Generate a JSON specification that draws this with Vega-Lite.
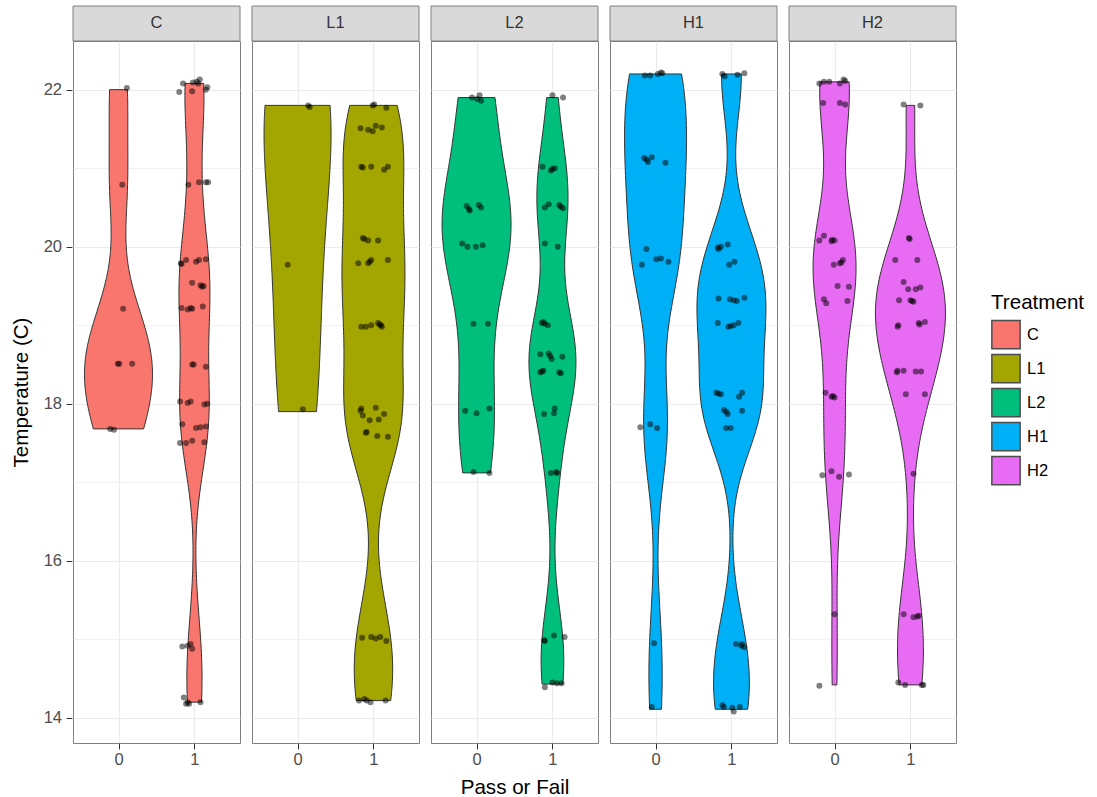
{
  "$schema": "https://vega.github.io/schema/vega-lite/v6.json",
  "padding": {"left": 11, "top": 5, "right": 5, "bottom": 3},
  "background": "white",
  "data": {"values": [
    {"Treatment":"C","pf":0,"temp":22.02,"pfx":0.11},
    {"Treatment":"C","pf":0,"temp":20.79,"pfx":0.05},
    {"Treatment":"C","pf":0,"temp":19.21,"pfx":0.06},
    {"Treatment":"C","pf":0,"temp":18.51,"pfx":-0.01},
    {"Treatment":"C","pf":0,"temp":18.51,"pfx":0.01},
    {"Treatment":"C","pf":0,"temp":18.51,"pfx":0.18},
    {"Treatment":"C","pf":0,"temp":17.68,"pfx":-0.11},
    {"Treatment":"C","pf":0,"temp":17.67,"pfx":-0.06},
    {"Treatment":"C","pf":1,"temp":21.97,"pfx":0.8},
    {"Treatment":"C","pf":1,"temp":22.08,"pfx":0.85},
    {"Treatment":"C","pf":1,"temp":21.98,"pfx":0.97},
    {"Treatment":"C","pf":1,"temp":22.1,"pfx":1.03},
    {"Treatment":"C","pf":1,"temp":22.13,"pfx":1.07},
    {"Treatment":"C","pf":1,"temp":22.08,"pfx":1.05},
    {"Treatment":"C","pf":1,"temp":22.0,"pfx":1.15},
    {"Treatment":"C","pf":1,"temp":22.03,"pfx":1.17},
    {"Treatment":"C","pf":1,"temp":22.09,"pfx":0.98},
    {"Treatment":"C","pf":1,"temp":20.79,"pfx":0.92},
    {"Treatment":"C","pf":1,"temp":20.82,"pfx":1.06},
    {"Treatment":"C","pf":1,"temp":20.82,"pfx":1.15},
    {"Treatment":"C","pf":1,"temp":20.82,"pfx":1.18},
    {"Treatment":"C","pf":1,"temp":19.79,"pfx":0.82},
    {"Treatment":"C","pf":1,"temp":19.78,"pfx":0.83},
    {"Treatment":"C","pf":1,"temp":19.83,"pfx":0.89},
    {"Treatment":"C","pf":1,"temp":19.81,"pfx":1.02},
    {"Treatment":"C","pf":1,"temp":19.83,"pfx":1.06},
    {"Treatment":"C","pf":1,"temp":19.84,"pfx":1.15},
    {"Treatment":"C","pf":1,"temp":19.54,"pfx":0.97},
    {"Treatment":"C","pf":1,"temp":19.51,"pfx":1.08},
    {"Treatment":"C","pf":1,"temp":19.49,"pfx":1.1},
    {"Treatment":"C","pf":1,"temp":19.5,"pfx":1.12},
    {"Treatment":"C","pf":1,"temp":19.22,"pfx":0.83},
    {"Treatment":"C","pf":1,"temp":19.2,"pfx":0.91},
    {"Treatment":"C","pf":1,"temp":19.22,"pfx":0.95},
    {"Treatment":"C","pf":1,"temp":19.21,"pfx":0.97},
    {"Treatment":"C","pf":1,"temp":19.24,"pfx":1.11},
    {"Treatment":"C","pf":1,"temp":18.5,"pfx":0.97},
    {"Treatment":"C","pf":1,"temp":18.5,"pfx":0.99},
    {"Treatment":"C","pf":1,"temp":18.47,"pfx":1.15},
    {"Treatment":"C","pf":1,"temp":18.03,"pfx":0.81},
    {"Treatment":"C","pf":1,"temp":18.01,"pfx":0.91},
    {"Treatment":"C","pf":1,"temp":18.03,"pfx":0.95},
    {"Treatment":"C","pf":1,"temp":17.99,"pfx":1.13},
    {"Treatment":"C","pf":1,"temp":18.0,"pfx":1.17},
    {"Treatment":"C","pf":1,"temp":17.74,"pfx":0.84},
    {"Treatment":"C","pf":1,"temp":17.69,"pfx":1.02},
    {"Treatment":"C","pf":1,"temp":17.7,"pfx":1.08},
    {"Treatment":"C","pf":1,"temp":17.71,"pfx":1.15},
    {"Treatment":"C","pf":1,"temp":17.5,"pfx":0.81},
    {"Treatment":"C","pf":1,"temp":17.5,"pfx":0.89},
    {"Treatment":"C","pf":1,"temp":17.53,"pfx":0.97},
    {"Treatment":"C","pf":1,"temp":17.51,"pfx":1.13},
    {"Treatment":"C","pf":1,"temp":14.91,"pfx":0.84},
    {"Treatment":"C","pf":1,"temp":14.92,"pfx":0.91},
    {"Treatment":"C","pf":1,"temp":14.88,"pfx":0.97},
    {"Treatment":"C","pf":1,"temp":14.94,"pfx":0.95},
    {"Treatment":"C","pf":1,"temp":14.26,"pfx":0.86},
    {"Treatment":"C","pf":1,"temp":14.2,"pfx":0.91},
    {"Treatment":"C","pf":1,"temp":14.18,"pfx":0.93},
    {"Treatment":"C","pf":1,"temp":14.2,"pfx":1.08},
    {"Treatment":"C","pf":1,"temp":14.18,"pfx":0.89},
    {"Treatment":"L1","pf":0,"temp":21.78,"pfx":0.16},
    {"Treatment":"L1","pf":0,"temp":21.8,"pfx":0.14},
    {"Treatment":"L1","pf":0,"temp":19.77,"pfx":-0.13},
    {"Treatment":"L1","pf":0,"temp":17.93,"pfx":0.07},
    {"Treatment":"L1","pf":1,"temp":21.8,"pfx":0.99},
    {"Treatment":"L1","pf":1,"temp":21.81,"pfx":1.01},
    {"Treatment":"L1","pf":1,"temp":21.77,"pfx":1.17},
    {"Treatment":"L1","pf":1,"temp":21.51,"pfx":0.83},
    {"Treatment":"L1","pf":1,"temp":21.49,"pfx":0.93},
    {"Treatment":"L1","pf":1,"temp":21.47,"pfx":0.99},
    {"Treatment":"L1","pf":1,"temp":21.54,"pfx":1.03},
    {"Treatment":"L1","pf":1,"temp":21.52,"pfx":1.11},
    {"Treatment":"L1","pf":1,"temp":21.02,"pfx":0.84},
    {"Treatment":"L1","pf":1,"temp":21.01,"pfx":0.86},
    {"Treatment":"L1","pf":1,"temp":21.02,"pfx":0.97},
    {"Treatment":"L1","pf":1,"temp":20.98,"pfx":1.14},
    {"Treatment":"L1","pf":1,"temp":21.02,"pfx":1.19},
    {"Treatment":"L1","pf":1,"temp":20.11,"pfx":0.86},
    {"Treatment":"L1","pf":1,"temp":20.1,"pfx":0.88},
    {"Treatment":"L1","pf":1,"temp":20.08,"pfx":0.93},
    {"Treatment":"L1","pf":1,"temp":20.08,"pfx":1.06},
    {"Treatment":"L1","pf":1,"temp":19.79,"pfx":0.8},
    {"Treatment":"L1","pf":1,"temp":19.79,"pfx":0.93},
    {"Treatment":"L1","pf":1,"temp":19.81,"pfx":0.95},
    {"Treatment":"L1","pf":1,"temp":19.83,"pfx":0.97},
    {"Treatment":"L1","pf":1,"temp":19.83,"pfx":1.19},
    {"Treatment":"L1","pf":1,"temp":18.98,"pfx":0.84},
    {"Treatment":"L1","pf":1,"temp":18.98,"pfx":0.9},
    {"Treatment":"L1","pf":1,"temp":19.0,"pfx":0.97},
    {"Treatment":"L1","pf":1,"temp":19.03,"pfx":1.06},
    {"Treatment":"L1","pf":1,"temp":19.01,"pfx":1.08},
    {"Treatment":"L1","pf":1,"temp":18.98,"pfx":1.11},
    {"Treatment":"L1","pf":1,"temp":19.0,"pfx":1.1},
    {"Treatment":"L1","pf":1,"temp":17.91,"pfx":0.83},
    {"Treatment":"L1","pf":1,"temp":17.85,"pfx":0.86},
    {"Treatment":"L1","pf":1,"temp":17.95,"pfx":1.03},
    {"Treatment":"L1","pf":1,"temp":17.87,"pfx":1.14},
    {"Treatment":"L1","pf":1,"temp":17.79,"pfx":0.95},
    {"Treatment":"L1","pf":1,"temp":17.8,"pfx":1.07},
    {"Treatment":"L1","pf":1,"temp":17.94,"pfx":0.84},
    {"Treatment":"L1","pf":1,"temp":17.63,"pfx":0.9},
    {"Treatment":"L1","pf":1,"temp":17.64,"pfx":0.91},
    {"Treatment":"L1","pf":1,"temp":17.59,"pfx":1.05},
    {"Treatment":"L1","pf":1,"temp":17.58,"pfx":1.19},
    {"Treatment":"L1","pf":1,"temp":15.02,"pfx":0.85},
    {"Treatment":"L1","pf":1,"temp":15.03,"pfx":0.97},
    {"Treatment":"L1","pf":1,"temp":15.01,"pfx":1.03},
    {"Treatment":"L1","pf":1,"temp":15.03,"pfx":1.09},
    {"Treatment":"L1","pf":1,"temp":14.98,"pfx":1.17},
    {"Treatment":"L1","pf":1,"temp":14.22,"pfx":0.81},
    {"Treatment":"L1","pf":1,"temp":14.24,"pfx":0.88},
    {"Treatment":"L1","pf":1,"temp":14.22,"pfx":0.91},
    {"Treatment":"L1","pf":1,"temp":14.2,"pfx":0.96},
    {"Treatment":"L1","pf":1,"temp":14.22,"pfx":1.16},
    {"Treatment":"L2","pf":0,"temp":21.9,"pfx":-0.06},
    {"Treatment":"L2","pf":0,"temp":21.88,"pfx":0.01},
    {"Treatment":"L2","pf":0,"temp":21.86,"pfx":0.06},
    {"Treatment":"L2","pf":0,"temp":21.93,"pfx":0.04},
    {"Treatment":"L2","pf":0,"temp":20.52,"pfx":-0.13},
    {"Treatment":"L2","pf":0,"temp":20.46,"pfx":-0.09},
    {"Treatment":"L2","pf":0,"temp":20.53,"pfx":0.03},
    {"Treatment":"L2","pf":0,"temp":20.5,"pfx":0.06},
    {"Treatment":"L2","pf":0,"temp":20.48,"pfx":-0.1},
    {"Treatment":"L2","pf":0,"temp":20.04,"pfx":-0.19},
    {"Treatment":"L2","pf":0,"temp":20.0,"pfx":-0.12},
    {"Treatment":"L2","pf":0,"temp":20.0,"pfx":-0.01},
    {"Treatment":"L2","pf":0,"temp":20.02,"pfx":0.08},
    {"Treatment":"L2","pf":0,"temp":19.02,"pfx":-0.04},
    {"Treatment":"L2","pf":0,"temp":19.02,"pfx":0.15},
    {"Treatment":"L2","pf":0,"temp":17.91,"pfx":-0.15},
    {"Treatment":"L2","pf":0,"temp":17.88,"pfx":0.0},
    {"Treatment":"L2","pf":0,"temp":17.94,"pfx":0.17},
    {"Treatment":"L2","pf":0,"temp":17.13,"pfx":-0.04},
    {"Treatment":"L2","pf":0,"temp":17.12,"pfx":0.17},
    {"Treatment":"L2","pf":1,"temp":21.93,"pfx":1.0},
    {"Treatment":"L2","pf":1,"temp":21.9,"pfx":1.14},
    {"Treatment":"L2","pf":1,"temp":21.02,"pfx":0.87},
    {"Treatment":"L2","pf":1,"temp":20.97,"pfx":0.98},
    {"Treatment":"L2","pf":1,"temp":21.0,"pfx":1.03},
    {"Treatment":"L2","pf":1,"temp":20.99,"pfx":1.0},
    {"Treatment":"L2","pf":1,"temp":20.5,"pfx":0.9},
    {"Treatment":"L2","pf":1,"temp":20.54,"pfx":0.95},
    {"Treatment":"L2","pf":1,"temp":20.53,"pfx":1.09},
    {"Treatment":"L2","pf":1,"temp":20.49,"pfx":1.14},
    {"Treatment":"L2","pf":1,"temp":20.51,"pfx":1.11},
    {"Treatment":"L2","pf":1,"temp":20.04,"pfx":0.9},
    {"Treatment":"L2","pf":1,"temp":20.0,"pfx":1.07},
    {"Treatment":"L2","pf":1,"temp":19.03,"pfx":0.86},
    {"Treatment":"L2","pf":1,"temp":19.02,"pfx":0.9},
    {"Treatment":"L2","pf":1,"temp":19.0,"pfx":0.94},
    {"Treatment":"L2","pf":1,"temp":19.04,"pfx":0.88},
    {"Treatment":"L2","pf":1,"temp":18.63,"pfx":0.84},
    {"Treatment":"L2","pf":1,"temp":18.64,"pfx":0.95},
    {"Treatment":"L2","pf":1,"temp":18.57,"pfx":0.99},
    {"Treatment":"L2","pf":1,"temp":18.6,"pfx":1.13},
    {"Treatment":"L2","pf":1,"temp":18.61,"pfx":0.97},
    {"Treatment":"L2","pf":1,"temp":18.4,"pfx":0.84},
    {"Treatment":"L2","pf":1,"temp":18.42,"pfx":0.88},
    {"Treatment":"L2","pf":1,"temp":18.39,"pfx":1.11},
    {"Treatment":"L2","pf":1,"temp":18.41,"pfx":0.86},
    {"Treatment":"L2","pf":1,"temp":18.4,"pfx":1.09},
    {"Treatment":"L2","pf":1,"temp":17.87,"pfx":0.89},
    {"Treatment":"L2","pf":1,"temp":17.88,"pfx":1.02},
    {"Treatment":"L2","pf":1,"temp":17.94,"pfx":1.03},
    {"Treatment":"L2","pf":1,"temp":17.12,"pfx":0.98},
    {"Treatment":"L2","pf":1,"temp":17.13,"pfx":1.05},
    {"Treatment":"L2","pf":1,"temp":17.12,"pfx":1.06},
    {"Treatment":"L2","pf":1,"temp":14.98,"pfx":0.9},
    {"Treatment":"L2","pf":1,"temp":15.05,"pfx":1.02},
    {"Treatment":"L2","pf":1,"temp":15.03,"pfx":1.16},
    {"Treatment":"L2","pf":1,"temp":14.99,"pfx":0.89},
    {"Treatment":"L2","pf":1,"temp":14.39,"pfx":0.9},
    {"Treatment":"L2","pf":1,"temp":14.45,"pfx":1.0},
    {"Treatment":"L2","pf":1,"temp":14.44,"pfx":1.06},
    {"Treatment":"L2","pf":1,"temp":14.44,"pfx":1.12},
    {"Treatment":"H1","pf":0,"temp":22.18,"pfx":-0.14},
    {"Treatment":"H1","pf":0,"temp":22.18,"pfx":-0.07},
    {"Treatment":"H1","pf":0,"temp":22.2,"pfx":0.03},
    {"Treatment":"H1","pf":0,"temp":22.22,"pfx":0.07},
    {"Treatment":"H1","pf":0,"temp":22.21,"pfx":0.09},
    {"Treatment":"H1","pf":0,"temp":21.13,"pfx":-0.15},
    {"Treatment":"H1","pf":0,"temp":21.08,"pfx":-0.1},
    {"Treatment":"H1","pf":0,"temp":21.14,"pfx":-0.05},
    {"Treatment":"H1","pf":0,"temp":21.07,"pfx":0.13},
    {"Treatment":"H1","pf":0,"temp":21.11,"pfx":-0.12},
    {"Treatment":"H1","pf":0,"temp":19.97,"pfx":-0.12},
    {"Treatment":"H1","pf":0,"temp":19.77,"pfx":-0.18},
    {"Treatment":"H1","pf":0,"temp":19.84,"pfx":0.01},
    {"Treatment":"H1","pf":0,"temp":19.85,"pfx":0.07},
    {"Treatment":"H1","pf":0,"temp":19.81,"pfx":0.17},
    {"Treatment":"H1","pf":0,"temp":17.7,"pfx":-0.2},
    {"Treatment":"H1","pf":0,"temp":17.74,"pfx":-0.07},
    {"Treatment":"H1","pf":0,"temp":17.69,"pfx":0.02},
    {"Treatment":"H1","pf":0,"temp":14.95,"pfx":-0.02},
    {"Treatment":"H1","pf":0,"temp":14.14,"pfx":-0.05},
    {"Treatment":"H1","pf":1,"temp":22.2,"pfx":0.88},
    {"Treatment":"H1","pf":1,"temp":22.17,"pfx":0.91},
    {"Treatment":"H1","pf":1,"temp":22.19,"pfx":1.08},
    {"Treatment":"H1","pf":1,"temp":22.21,"pfx":1.17},
    {"Treatment":"H1","pf":1,"temp":19.99,"pfx":0.82},
    {"Treatment":"H1","pf":1,"temp":20.0,"pfx":0.86},
    {"Treatment":"H1","pf":1,"temp":20.03,"pfx":0.95},
    {"Treatment":"H1","pf":1,"temp":19.97,"pfx":0.83},
    {"Treatment":"H1","pf":1,"temp":19.77,"pfx":0.97},
    {"Treatment":"H1","pf":1,"temp":19.81,"pfx":1.04},
    {"Treatment":"H1","pf":1,"temp":19.34,"pfx":0.83},
    {"Treatment":"H1","pf":1,"temp":19.33,"pfx":0.98},
    {"Treatment":"H1","pf":1,"temp":19.31,"pfx":1.07},
    {"Treatment":"H1","pf":1,"temp":19.35,"pfx":1.17},
    {"Treatment":"H1","pf":1,"temp":19.32,"pfx":1.03},
    {"Treatment":"H1","pf":1,"temp":19.03,"pfx":0.82},
    {"Treatment":"H1","pf":1,"temp":18.98,"pfx":0.96},
    {"Treatment":"H1","pf":1,"temp":19.0,"pfx":1.03},
    {"Treatment":"H1","pf":1,"temp":19.03,"pfx":1.09},
    {"Treatment":"H1","pf":1,"temp":18.99,"pfx":0.99},
    {"Treatment":"H1","pf":1,"temp":18.14,"pfx":0.8},
    {"Treatment":"H1","pf":1,"temp":18.12,"pfx":0.86},
    {"Treatment":"H1","pf":1,"temp":18.09,"pfx":1.1},
    {"Treatment":"H1","pf":1,"temp":18.14,"pfx":1.14},
    {"Treatment":"H1","pf":1,"temp":18.13,"pfx":0.83},
    {"Treatment":"H1","pf":1,"temp":17.92,"pfx":0.9},
    {"Treatment":"H1","pf":1,"temp":17.87,"pfx":0.95},
    {"Treatment":"H1","pf":1,"temp":17.91,"pfx":1.14},
    {"Treatment":"H1","pf":1,"temp":17.9,"pfx":0.93},
    {"Treatment":"H1","pf":1,"temp":17.69,"pfx":0.93},
    {"Treatment":"H1","pf":1,"temp":17.69,"pfx":0.99},
    {"Treatment":"H1","pf":1,"temp":14.94,"pfx":1.06},
    {"Treatment":"H1","pf":1,"temp":14.94,"pfx":1.14},
    {"Treatment":"H1","pf":1,"temp":14.9,"pfx":1.17},
    {"Treatment":"H1","pf":1,"temp":14.92,"pfx":1.13},
    {"Treatment":"H1","pf":1,"temp":14.16,"pfx":0.88},
    {"Treatment":"H1","pf":1,"temp":14.13,"pfx":1.01},
    {"Treatment":"H1","pf":1,"temp":14.14,"pfx":1.11},
    {"Treatment":"H1","pf":1,"temp":14.08,"pfx":1.03},
    {"Treatment":"H1","pf":1,"temp":14.14,"pfx":0.9},
    {"Treatment":"H2","pf":0,"temp":22.08,"pfx":-0.2},
    {"Treatment":"H2","pf":0,"temp":22.1,"pfx":-0.14},
    {"Treatment":"H2","pf":0,"temp":22.1,"pfx":-0.07},
    {"Treatment":"H2","pf":0,"temp":22.08,"pfx":0.07},
    {"Treatment":"H2","pf":0,"temp":22.13,"pfx":0.12},
    {"Treatment":"H2","pf":0,"temp":22.11,"pfx":0.14},
    {"Treatment":"H2","pf":0,"temp":21.83,"pfx":-0.15},
    {"Treatment":"H2","pf":0,"temp":21.83,"pfx":0.07},
    {"Treatment":"H2","pf":0,"temp":21.81,"pfx":0.14},
    {"Treatment":"H2","pf":0,"temp":20.08,"pfx":-0.2},
    {"Treatment":"H2","pf":0,"temp":20.14,"pfx":-0.14},
    {"Treatment":"H2","pf":0,"temp":20.07,"pfx":-0.04},
    {"Treatment":"H2","pf":0,"temp":20.08,"pfx":0.0},
    {"Treatment":"H2","pf":0,"temp":20.09,"pfx":-0.03},
    {"Treatment":"H2","pf":0,"temp":19.77,"pfx":-0.01},
    {"Treatment":"H2","pf":0,"temp":19.79,"pfx":0.07},
    {"Treatment":"H2","pf":0,"temp":19.83,"pfx":0.11},
    {"Treatment":"H2","pf":0,"temp":19.8,"pfx":0.09},
    {"Treatment":"H2","pf":0,"temp":19.5,"pfx":0.04},
    {"Treatment":"H2","pf":0,"temp":19.49,"pfx":0.19},
    {"Treatment":"H2","pf":0,"temp":19.33,"pfx":-0.14},
    {"Treatment":"H2","pf":0,"temp":19.28,"pfx":-0.11},
    {"Treatment":"H2","pf":0,"temp":19.31,"pfx":0.17},
    {"Treatment":"H2","pf":0,"temp":18.14,"pfx":-0.12},
    {"Treatment":"H2","pf":0,"temp":18.09,"pfx":-0.04},
    {"Treatment":"H2","pf":0,"temp":18.08,"pfx":0.0},
    {"Treatment":"H2","pf":0,"temp":18.1,"pfx":-0.02},
    {"Treatment":"H2","pf":0,"temp":17.09,"pfx":-0.16},
    {"Treatment":"H2","pf":0,"temp":17.14,"pfx":-0.04},
    {"Treatment":"H2","pf":0,"temp":17.07,"pfx":0.06},
    {"Treatment":"H2","pf":0,"temp":17.1,"pfx":0.19},
    {"Treatment":"H2","pf":0,"temp":15.32,"pfx":0.0},
    {"Treatment":"H2","pf":0,"temp":14.41,"pfx":-0.2},
    {"Treatment":"H2","pf":1,"temp":21.81,"pfx":0.91},
    {"Treatment":"H2","pf":1,"temp":21.8,"pfx":1.13},
    {"Treatment":"H2","pf":1,"temp":20.11,"pfx":0.98},
    {"Treatment":"H2","pf":1,"temp":20.1,"pfx":0.99},
    {"Treatment":"H2","pf":1,"temp":19.83,"pfx":0.8},
    {"Treatment":"H2","pf":1,"temp":19.83,"pfx":1.09},
    {"Treatment":"H2","pf":1,"temp":19.55,"pfx":0.91},
    {"Treatment":"H2","pf":1,"temp":19.46,"pfx":0.97},
    {"Treatment":"H2","pf":1,"temp":19.46,"pfx":1.07},
    {"Treatment":"H2","pf":1,"temp":19.48,"pfx":1.13},
    {"Treatment":"H2","pf":1,"temp":19.32,"pfx":0.85},
    {"Treatment":"H2","pf":1,"temp":19.32,"pfx":1.0},
    {"Treatment":"H2","pf":1,"temp":19.3,"pfx":1.04},
    {"Treatment":"H2","pf":1,"temp":19.31,"pfx":1.02},
    {"Treatment":"H2","pf":1,"temp":19.0,"pfx":0.84},
    {"Treatment":"H2","pf":1,"temp":19.03,"pfx":1.11},
    {"Treatment":"H2","pf":1,"temp":19.04,"pfx":1.19},
    {"Treatment":"H2","pf":1,"temp":18.98,"pfx":0.83},
    {"Treatment":"H2","pf":1,"temp":19.01,"pfx":1.12},
    {"Treatment":"H2","pf":1,"temp":18.4,"pfx":0.82},
    {"Treatment":"H2","pf":1,"temp":18.42,"pfx":0.91},
    {"Treatment":"H2","pf":1,"temp":18.41,"pfx":1.07},
    {"Treatment":"H2","pf":1,"temp":18.41,"pfx":1.14},
    {"Treatment":"H2","pf":1,"temp":18.42,"pfx":0.83},
    {"Treatment":"H2","pf":1,"temp":18.12,"pfx":0.94},
    {"Treatment":"H2","pf":1,"temp":18.12,"pfx":1.19},
    {"Treatment":"H2","pf":1,"temp":17.11,"pfx":1.04},
    {"Treatment":"H2","pf":1,"temp":15.32,"pfx":0.91},
    {"Treatment":"H2","pf":1,"temp":15.28,"pfx":1.04},
    {"Treatment":"H2","pf":1,"temp":15.3,"pfx":1.11},
    {"Treatment":"H2","pf":1,"temp":15.29,"pfx":1.09},
    {"Treatment":"H2","pf":1,"temp":14.45,"pfx":0.84},
    {"Treatment":"H2","pf":1,"temp":14.42,"pfx":0.93},
    {"Treatment":"H2","pf":1,"temp":14.42,"pfx":1.17},
    {"Treatment":"H2","pf":1,"temp":14.42,"pfx":1.15}
  ]},
  "facet": {
    "column": {
      "field": "Treatment",
      "type": "nominal",
      "sort": ["C", "L1", "L2", "H1", "H2"],
      "title": "Pass or Fail",
      "header": {
        "labels": false,
        "titleOrient": "bottom",
        "titleFont": "Liberation Sans",
        "titleFontSize": 20.6,
        "titleFontWeight": "normal",
        "titleColor": "#000000",
        "titlePadding": 0
      }
    }
  },
  "spacing": {"column": 10},
  "resolve": {"scale": {"x": "independent"}, "axis": {"x": "independent"}},
  "spec": {
    "width": 167,
    "height": 702,
    "resolve": {"scale": {"x": "independent"}, "axis": {"x": "independent", "y": "independent"}},
    "layer": [
      {
        "transform": [{"filter": "datum.Treatment === 'C' && datum.pf === 0"}, {"density": "temp", "groupby": ["Treatment"], "bandwidth": 0.6, "extent": [17.68, 22.0], "steps": 150}],
        "mark": {"type": "area", "orient": "horizontal", "stroke": "#333333", "strokeWidth": 1, "opacity": 1},
        "encoding": {
          "y": {"field": "value", "type": "quantitative", "scale": {"domain": [13.68, 22.62], "nice": false, "zero": false}, "axis": null},
          "x": {"field": "density", "type": "quantitative", "stack": "center", "impute": null, "axis": null, "scale": {"nice": false, "zero": true, "range": [11.5, 79.5]}},
          "color": {"field": "Treatment", "type": "nominal", "scale": {"domain": ["C", "L1", "L2", "H1", "H2"], "range": ["#F8766D", "#A3A500", "#00BF7D", "#00B0F6", "#E76BF3"]}, "legend": {"title": "Treatment", "orient": "none", "legendX": 918, "legendY": 252}}
        }
      },
      {
        "transform": [{"filter": "datum.Treatment === 'C' && datum.pf === 1"}, {"density": "temp", "groupby": ["Treatment"], "bandwidth": 0.65, "extent": [14.2, 22.08], "steps": 150}],
        "mark": {"type": "area", "orient": "horizontal", "stroke": "#333333", "strokeWidth": 1, "opacity": 1},
        "encoding": {
          "y": {"field": "value", "type": "quantitative", "scale": {"domain": [13.68, 22.62], "nice": false, "zero": false}, "axis": null},
          "x": {"field": "density", "type": "quantitative", "stack": "center", "impute": null, "axis": null, "scale": {"nice": false, "zero": true, "range": [105.95, 136.95]}},
          "color": {"field": "Treatment", "type": "nominal", "scale": {"domain": ["C", "L1", "L2", "H1", "H2"], "range": ["#F8766D", "#A3A500", "#00BF7D", "#00B0F6", "#E76BF3"]}, "legend": {"title": "Treatment", "orient": "none", "legendX": 918, "legendY": 252}}
        }
      },
      {
        "transform": [{"filter": "datum.Treatment === 'L1' && datum.pf === 0"}, {"density": "temp", "groupby": ["Treatment"], "bandwidth": 1.2, "extent": [17.9, 21.8], "steps": 150}],
        "mark": {"type": "area", "orient": "horizontal", "stroke": "#333333", "strokeWidth": 1, "opacity": 1},
        "encoding": {
          "y": {"field": "value", "type": "quantitative", "scale": {"domain": [13.68, 22.62], "nice": false, "zero": false}, "axis": null},
          "x": {"field": "density", "type": "quantitative", "stack": "center", "impute": null, "axis": null, "scale": {"nice": false, "zero": true, "range": [12.05, 79.05]}},
          "color": {"field": "Treatment", "type": "nominal", "scale": {"domain": ["C", "L1", "L2", "H1", "H2"], "range": ["#F8766D", "#A3A500", "#00BF7D", "#00B0F6", "#E76BF3"]}, "legend": {"title": "Treatment", "orient": "none", "legendX": 918, "legendY": 252}}
        }
      },
      {
        "transform": [{"filter": "datum.Treatment === 'L1' && datum.pf === 1"}, {"density": "temp", "groupby": ["Treatment"], "bandwidth": 0.7, "extent": [14.22, 21.8], "steps": 150}],
        "mark": {"type": "area", "orient": "horizontal", "stroke": "#333333", "strokeWidth": 1, "opacity": 1},
        "encoding": {
          "y": {"field": "value", "type": "quantitative", "scale": {"domain": [13.68, 22.62], "nice": false, "zero": false}, "axis": null},
          "x": {"field": "density", "type": "quantitative", "stack": "center", "impute": null, "axis": null, "scale": {"nice": false, "zero": true, "range": [89.95, 152.95]}},
          "color": {"field": "Treatment", "type": "nominal", "scale": {"domain": ["C", "L1", "L2", "H1", "H2"], "range": ["#F8766D", "#A3A500", "#00BF7D", "#00B0F6", "#E76BF3"]}, "legend": {"title": "Treatment", "orient": "none", "legendX": 918, "legendY": 252}}
        }
      },
      {
        "transform": [{"filter": "datum.Treatment === 'L2' && datum.pf === 0"}, {"density": "temp", "groupby": ["Treatment"], "bandwidth": 0.75, "extent": [17.12, 21.9], "steps": 150}],
        "mark": {"type": "area", "orient": "horizontal", "stroke": "#333333", "strokeWidth": 1, "opacity": 1},
        "encoding": {
          "y": {"field": "value", "type": "quantitative", "scale": {"domain": [13.68, 22.62], "nice": false, "zero": false}, "axis": null},
          "x": {"field": "density", "type": "quantitative", "stack": "center", "impute": null, "axis": null, "scale": {"nice": false, "zero": true, "range": [11.05, 80.05]}},
          "color": {"field": "Treatment", "type": "nominal", "scale": {"domain": ["C", "L1", "L2", "H1", "H2"], "range": ["#F8766D", "#A3A500", "#00BF7D", "#00B0F6", "#E76BF3"]}, "legend": {"title": "Treatment", "orient": "none", "legendX": 918, "legendY": 252}}
        }
      },
      {
        "transform": [{"filter": "datum.Treatment === 'L2' && datum.pf === 1"}, {"density": "temp", "groupby": ["Treatment"], "bandwidth": 0.6, "extent": [14.43, 21.9], "steps": 150}],
        "mark": {"type": "area", "orient": "horizontal", "stroke": "#333333", "strokeWidth": 1, "opacity": 1},
        "encoding": {
          "y": {"field": "value", "type": "quantitative", "scale": {"domain": [13.68, 22.62], "nice": false, "zero": false}, "axis": null},
          "x": {"field": "density", "type": "quantitative", "stack": "center", "impute": null, "axis": null, "scale": {"nice": false, "zero": true, "range": [97.95, 144.95]}},
          "color": {"field": "Treatment", "type": "nominal", "scale": {"domain": ["C", "L1", "L2", "H1", "H2"], "range": ["#F8766D", "#A3A500", "#00BF7D", "#00B0F6", "#E76BF3"]}, "legend": {"title": "Treatment", "orient": "none", "legendX": 918, "legendY": 252}}
        }
      },
      {
        "transform": [{"filter": "datum.Treatment === 'H1' && datum.pf === 0"}, {"density": "temp", "groupby": ["Treatment"], "bandwidth": 0.75, "extent": [14.11, 22.2], "steps": 150}],
        "mark": {"type": "area", "orient": "horizontal", "stroke": "#333333", "strokeWidth": 1, "opacity": 1},
        "encoding": {
          "y": {"field": "value", "type": "quantitative", "scale": {"domain": [13.68, 22.62], "nice": false, "zero": false}, "axis": null},
          "x": {"field": "density", "type": "quantitative", "stack": "center", "impute": null, "axis": null, "scale": {"nice": false, "zero": true, "range": [14.55, 76.55]}},
          "color": {"field": "Treatment", "type": "nominal", "scale": {"domain": ["C", "L1", "L2", "H1", "H2"], "range": ["#F8766D", "#A3A500", "#00BF7D", "#00B0F6", "#E76BF3"]}, "legend": {"title": "Treatment", "orient": "none", "legendX": 918, "legendY": 252}}
        }
      },
      {
        "transform": [{"filter": "datum.Treatment === 'H1' && datum.pf === 1"}, {"density": "temp", "groupby": ["Treatment"], "bandwidth": 0.6, "extent": [14.11, 22.2], "steps": 150}],
        "mark": {"type": "area", "orient": "horizontal", "stroke": "#333333", "strokeWidth": 1, "opacity": 1},
        "encoding": {
          "y": {"field": "value", "type": "quantitative", "scale": {"domain": [13.68, 22.62], "nice": false, "zero": false}, "axis": null},
          "x": {"field": "density", "type": "quantitative", "stack": "center", "impute": null, "axis": null, "scale": {"nice": false, "zero": true, "range": [86.95, 155.95]}},
          "color": {"field": "Treatment", "type": "nominal", "scale": {"domain": ["C", "L1", "L2", "H1", "H2"], "range": ["#F8766D", "#A3A500", "#00BF7D", "#00B0F6", "#E76BF3"]}, "legend": {"title": "Treatment", "orient": "none", "legendX": 918, "legendY": 252}}
        }
      },
      {
        "transform": [{"filter": "datum.Treatment === 'H2' && datum.pf === 0"}, {"density": "temp", "groupby": ["Treatment"], "bandwidth": 0.7, "extent": [14.42, 22.1], "steps": 150}],
        "mark": {"type": "area", "orient": "horizontal", "stroke": "#333333", "strokeWidth": 1, "opacity": 1},
        "encoding": {
          "y": {"field": "value", "type": "quantitative", "scale": {"domain": [13.68, 22.62], "nice": false, "zero": false}, "axis": null},
          "x": {"field": "density", "type": "quantitative", "stack": "center", "impute": null, "axis": null, "scale": {"nice": false, "zero": true, "range": [24.05, 67.05]}},
          "color": {"field": "Treatment", "type": "nominal", "scale": {"domain": ["C", "L1", "L2", "H1", "H2"], "range": ["#F8766D", "#A3A500", "#00BF7D", "#00B0F6", "#E76BF3"]}, "legend": {"title": "Treatment", "orient": "none", "legendX": 918, "legendY": 252}}
        }
      },
      {
        "transform": [{"filter": "datum.Treatment === 'H2' && datum.pf === 1"}, {"density": "temp", "groupby": ["Treatment"], "bandwidth": 0.65, "extent": [14.42, 21.8], "steps": 150}],
        "mark": {"type": "area", "orient": "horizontal", "stroke": "#333333", "strokeWidth": 1, "opacity": 1},
        "encoding": {
          "y": {"field": "value", "type": "quantitative", "scale": {"domain": [13.68, 22.62], "nice": false, "zero": false}, "axis": null},
          "x": {"field": "density", "type": "quantitative", "stack": "center", "impute": null, "axis": null, "scale": {"nice": false, "zero": true, "range": [86.45, 156.45]}},
          "color": {"field": "Treatment", "type": "nominal", "scale": {"domain": ["C", "L1", "L2", "H1", "H2"], "range": ["#F8766D", "#A3A500", "#00BF7D", "#00B0F6", "#E76BF3"]}, "legend": {"title": "Treatment", "orient": "none", "legendX": 918, "legendY": 252}}
        }
      },
      {
        "mark": {"type": "circle", "color": "#000000", "opacity": 0.5, "size": 36},
        "encoding": {
          "x": {"field": "pfx", "type": "quantitative", "scale": {"domain": [-0.6, 1.6], "nice": false, "zero": false}, "axis": {"title": null, "values": [0, 1], "format": "d", "grid": true, "gridColor": "#EBEBEB", "gridWidth": 1.2}},
          "y": {"field": "temp", "type": "quantitative", "scale": {"domain": [13.68, 22.62], "nice": false, "zero": false},
            "axis": {
              "title": "Temperature (C)",
              "orient": "left",
              "values": [14, 15, 16, 17, 18, 19, 20, 21, 22],
              "grid": true,
              "labelExpr": "datum.value % 2 === 0 ? datum.label : ''",
              "tickOpacity": {"condition": {"test": "datum.value % 2 === 1", "value": 0}, "value": 1},
              "gridWidth": {"condition": {"test": "datum.value % 2 === 1", "value": 0.7}, "value": 1.2}
            }
          }
        }
      },
      {
        "transform": [{"aggregate": [{"op": "count", "as": "n"}], "groupby": ["Treatment"]}],
        "mark": {"type": "rect", "fill": "#D9D9D9", "stroke": "#7f7f7f", "strokeWidth": 1},
        "encoding": {
          "y": {"datum": 22.62, "type": "quantitative", "scale": {"domain": [13.68, 22.62], "nice": false, "zero": false}, "axis": null},
          "y2": {"datum": 23.065}
        }
      },
      {
        "transform": [{"aggregate": [{"op": "count", "as": "n"}], "groupby": ["Treatment"]}],
        "mark": {"type": "text", "font": "Liberation Sans", "fontSize": 16.5, "color": "#333333", "baseline": "middle", "align": "center"},
        "encoding": {
          "y": {"datum": 22.843, "type": "quantitative", "scale": {"domain": [13.68, 22.62], "nice": false, "zero": false}, "axis": null},
          "text": {"field": "Treatment", "type": "nominal"}
        }
      }
    ]
  },
  "config": {
    "font": "Liberation Sans",
    "view": {"stroke": "#7f7f7f", "strokeWidth": 1},
    "axis": {
      "labelFont": "Liberation Sans",
      "labelFontSize": 16.5,
      "labelColor": "#4D4D4D",
      "tickColor": "#333333",
      "tickSize": 6,
      "domain": false,
      "gridColor": "#EBEBEB",
      "gridWidth": 1.2,
      "titleFont": "Liberation Sans",
      "titleFontSize": 20.6,
      "titleFontWeight": "normal",
      "titleColor": "#000000",
      "titlePadding": 12
    },
    "axisX": {"labelPadding": 2},
    "axisY": {"labelPadding": 4.5},
    "legend": {
      "titleFont": "Liberation Sans",
      "titleFontSize": 20.6,
      "titleFontWeight": "normal",
      "titleColor": "#000000",
      "labelFont": "Liberation Sans",
      "labelFontSize": 16.5,
      "labelColor": "#000000",
      "symbolType": "square",
      "symbolSize": 800,
      "symbolStrokeColor": "#4D4D4D",
      "symbolStrokeWidth": 1.5,
      "symbolOpacity": 1,
      "rowPadding": -2,
      "labelOffset": 6,
      "titlePadding": 6
    }
  }
}
